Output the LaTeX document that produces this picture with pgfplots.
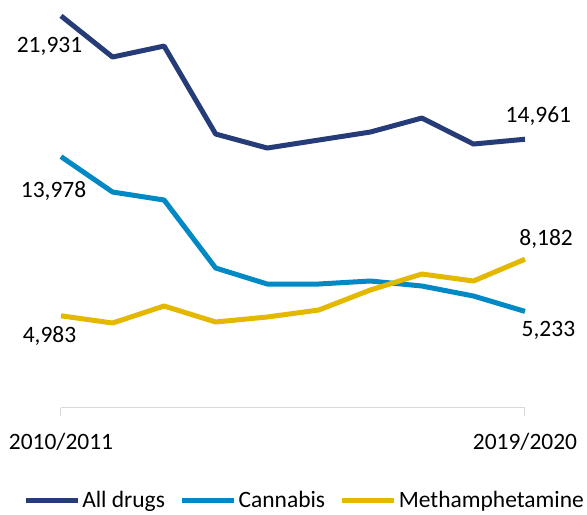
\documentclass[border=0pt]{standalone}
\usepackage{fontspec}
\setmainfont{Carlito}
\usepackage{pgfplots}
\pgfplotsset{compat=1.18}
\definecolor{alld}{HTML}{253C78}
\definecolor{cann}{HTML}{0089C4}
\definecolor{meth}{HTML}{E5B800}
\definecolor{axg}{HTML}{D9D9D9}
\newcommand{\lblfont}{\fontsize{17.6}{21}\selectfont}
\begin{document}
\begin{tikzpicture}
\path[use as bounding box] (-45.75pt,-80.25pt) rectangle (394.5pt,306pt);
\begin{axis}[
  at={(0pt,0pt)}, anchor=south west,
  scale only axis, width=348pt, height=295pt,
  xmin=0, xmax=9, ymin=-226, ymax=22000,
  axis x line=bottom, axis y line=none,
  x axis line style={draw=axg, line width=0.75pt, -},
  xtick={0,9}, xticklabels={2010/2011,2019/2020},
  tick align=outside, major tick length=6pt,
  tick style={draw=axg, line width=0.75pt},
  /pgf/number format/assume math mode=true,
  ticklabel style={font=\lblfont, text=black},
  xticklabel style={yshift=-9pt},
  clip=false,
  legend columns=3,
  legend style={draw=none, fill=none, at={(-0.0819,-0.2340)}, anchor=west,
    font=\lblfont, inner sep=0pt,
    nodes={inner sep=0pt},
    /tikz/every odd column/.append style={column sep=1.5pt},
    /tikz/every even column/.append style={column sep=11pt}},
  legend image code/.code={\draw[#1, line width=3.75pt] (0pt,0pt) -- (39pt,0pt);},
  every axis plot/.append style={line width=3.75pt, line join=round, line cap=butt},
]
\addplot[alld] coordinates {(0,21931) (1,19606) (2,20227) (3,15255) (4,14464) (5,14916) (6,15368) (7,16159) (8,14690) (9,14961)};
\addlegendentry{All drugs}
\addplot[cann] coordinates {(0,13978) (1,11978) (2,11526) (3,7684) (4,6780) (5,6780) (6,6950) (7,6667) (8,6102) (9,5233)};
\addlegendentry{Cannabis}
\addplot[meth] coordinates {(0,4983) (1,4577) (2,5537) (3,4633) (4,4916) (5,5311) (6,6441) (7,7345) (8,6950) (9,8182)};
\addlegendentry{Methamphetamine}
\node[anchor=base, inner sep=0pt, font=\lblfont] at (axis cs:-0.223,19888) {21,931};
\node[anchor=base, inner sep=0pt, font=\lblfont] at (axis cs:-0.145,11696) {13,978};
\node[anchor=base, inner sep=0pt, font=\lblfont] at (axis cs:-0.223,3503) {4,983};
\node[anchor=base, inner sep=0pt, font=\lblfont] at (axis cs:9.26,15933) {14,961};
\node[anchor=base, inner sep=0pt, font=\lblfont] at (axis cs:9.41,8984) {8,182};
\node[anchor=base, inner sep=0pt, font=\lblfont] at (axis cs:9.455,3786) {5,233};
\end{axis}
\end{tikzpicture}
\end{document}
